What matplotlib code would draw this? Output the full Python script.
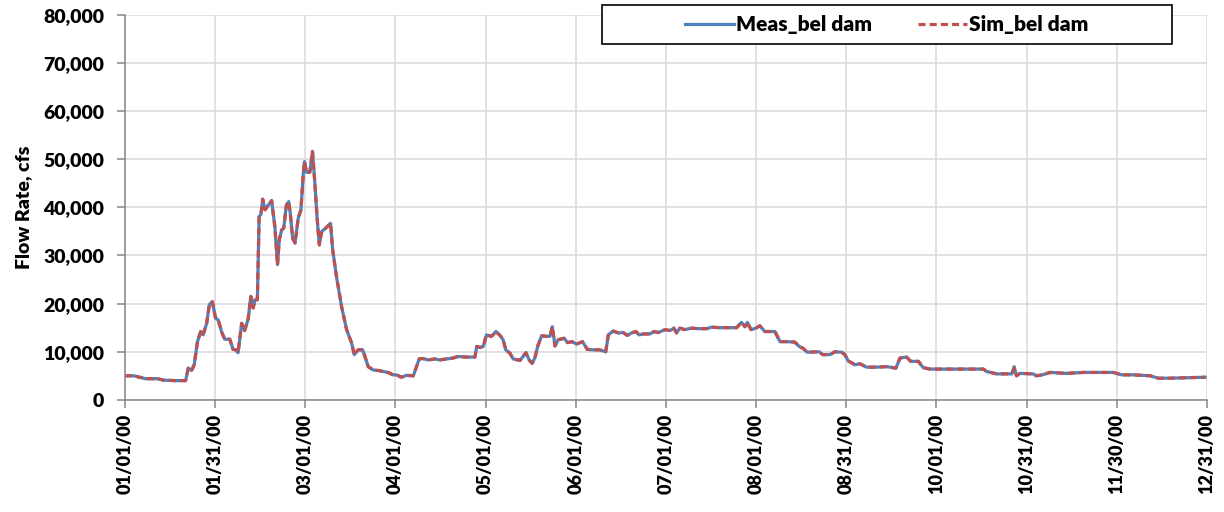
import numpy as np
import matplotlib
matplotlib.use('Agg')
import matplotlib.pyplot as plt
from matplotlib.patches import Rectangle
from matplotlib.ticker import FuncFormatter, MultipleLocator

plt.rcParams['font.family'] = ['Lato', 'DejaVu Sans']

# day of year 2000 (0 = 01/01/00) and flow, cfs
days = [0, 3, 5, 7, 11, 13, 17, 20.5, 21.4, 22.5, 23.4, 24.5, 25.6, 26.4, 27.6,
        28.5, 29.5, 30.6, 31.5, 32.6, 33.7, 35.4, 36.5, 37.5, 38.2, 39.4, 40.4,
        41.6, 42.5, 43.3, 43.9, 44.7, 45.3, 45.9, 46.5, 47.3, 48.4, 49.5, 50.6,
        51.5, 52.1, 52.9, 53.6, 54.5, 55.3, 55.8, 56.6, 57.4, 58.5, 59.4, 60.2,
        60.6, 61.3, 62.4, 63.3, 64.1, 64.9, 65.6, 66.4, 67.8, 69.4, 70.1, 71.4,
        73.1, 74.8, 76.5, 77.4, 78.7, 80.2, 81.0, 82.1, 83.8, 85.5, 88.8, 90.5,
        91.6, 93.3, 95.0, 97.3, 99.3, 100.4, 102.3, 104.6, 106.2, 108.5, 110.8,
        112.2, 115.2, 118.1, 118.7, 119.8, 120.9, 122.0, 123.7, 125.2, 126.7,
        127.6, 128.5, 129.9, 131.0, 133.3, 135.3, 136.4, 137.4, 138.3, 139.4,
        140.6, 142.3, 143.4, 144.2, 145.1, 146.2, 148.2, 149.3, 150.8, 152.4,
        154.4, 156.0, 157.9, 160.1, 162.2, 163.1, 164.7, 166.5, 168.1, 169.5,
        170.9, 172.4, 173.5, 174.9, 177.1, 178.5, 180.0, 182.2, 183.9, 185.2,
        186.1, 187.2, 188.9, 191.2, 193.4, 196.3, 197.9, 200.7, 204.1, 206.4,
        208.0, 209.2, 210.0, 211.2, 212.9, 214.2, 215.9, 219.3, 221.0, 223.3,
        226.0, 227.5, 228.8, 230.2, 234.2, 235.4, 237.9, 239.5, 241.8, 242.9,
        244.0, 246.3, 248.0, 250.2, 253.6, 257.0, 260.1, 261.5, 263.7, 265.1,
        267.7, 269.3, 271.6, 280.0, 289.6, 290.7, 294.1, 299.2, 300.0, 300.8,
        301.9, 306.4, 307.5, 309.5, 312.1, 317.7, 323.3, 333.5, 336.3, 340.3,
        345.9, 348.6, 352.0, 357.9, 364.4]

meas_flow = [5000, 5000, 4700, 4400, 4400, 4100, 4000, 4000, 6600, 6100, 7300,
             12100, 14200, 13500, 15900, 19800, 20400, 17000, 16600, 14200,
             12600, 12600, 10500, 10400, 9800, 15900, 14400, 16800, 21500,
             19100, 20800, 20800, 38100, 38500, 41700, 39500, 40500, 41400,
             36000, 28100, 33300, 35300, 35700, 40500, 41200, 38800, 33600,
             32600, 37800, 39500, 47100, 49500, 47300, 47300, 51600, 45000,
             37400, 32200, 35000, 35700, 36700, 31200, 25600, 19400, 14600,
             11800, 9400, 10400, 10400, 9000, 6900, 6200, 6100, 5700, 5200,
             5200, 4700, 5100, 5000, 8500, 8600, 8300, 8500, 8300, 8500, 8700,
             9000, 8900, 8900, 11100, 10900, 11100, 13500, 13200, 14200, 13300,
             12500, 10400, 9700, 8500, 8200, 9800, 8300, 7600, 8700, 11400,
             13300, 13200, 13200, 15200, 11200, 12500, 12800, 11900, 12100,
             11600, 12100, 10500, 10400, 10400, 10000, 13500, 14300, 13900,
             14000, 13400, 13900, 14200, 13500, 13700, 13700, 14200, 14000,
             14600, 14400, 14900, 13900, 14900, 14600, 14900, 14800, 14800,
             15100, 15000, 15000, 15000, 16100, 15200, 16100, 14600, 14900,
             15400, 14200, 14200, 12100, 12100, 12000, 11100, 10700, 9900,
             10000, 9400, 9400, 10000, 9900, 9400, 8100, 7300, 7500, 6800, 6800,
             6900, 6600, 8700, 8900, 8000, 8000, 6700, 6400, 6400, 6400, 5900,
             5400, 5400, 6900, 5000, 5500, 5400, 5000, 5200, 5700, 5500, 5700,
             5700, 5200, 5200, 5000, 4500, 4500, 4600, 4700]

sim_flow = [5000, 5000, 4700, 4400, 4400, 4100, 4000, 4000, 6600, 6100, 7300,
            12100, 14200, 13500, 15900, 19800, 20400, 17000, 16600, 14200,
            12600, 12600, 10500, 10400, 9800, 15900, 14400, 16800, 21500,
            19100, 20800, 20800, 38100, 38500, 41700, 39500, 40500, 41400,
            36000, 28100, 33300, 35300, 35700, 40500, 41200, 38800, 33600,
            32600, 37800, 39500, 47100, 49500, 47300, 47300, 51600, 45000,
            37400, 32200, 35000, 35700, 36700, 31200, 25600, 19400, 14600,
            11800, 9400, 10400, 10400, 9000, 6900, 6200, 6100, 5700, 5200,
            5200, 4700, 5100, 5000, 8500, 8600, 8300, 8500, 8300, 8500, 8700,
            9000, 8900, 8900, 11100, 10900, 11100, 13500, 13200, 14200, 13300,
            12500, 10400, 9700, 8500, 8200, 9800, 8300, 7600, 8700, 11400,
            13300, 13200, 13200, 15200, 11200, 12500, 12800, 11900, 12100,
            11600, 12100, 10500, 10400, 10400, 10000, 13500, 14300, 13900,
            14000, 13400, 13900, 14200, 13500, 13700, 13700, 14200, 14000,
            14600, 14400, 14900, 13900, 14900, 14600, 14900, 14800, 14800,
            15100, 15000, 15000, 15000, 16100, 15200, 16100, 14600, 14900,
            15400, 14200, 14200, 12100, 12100, 12000, 11100, 10700, 9900,
            10000, 9400, 9400, 10000, 9900, 9400, 8100, 7300, 7500, 6800, 6800,
            6900, 6600, 8700, 8900, 8000, 8000, 6700, 6400, 6400, 6400, 5900,
            5400, 5400, 6600, 5000, 5500, 5400, 5000, 5200, 5700, 5500, 5700,
            5700, 5200, 5200, 5000, 4500, 4500, 4600, 4700]

tick_labels = ['01/01/00', '01/31/00', '03/01/00', '04/01/00', '05/01/00',
               '06/01/00', '07/01/00', '08/01/00', '08/31/00', '10/01/00',
               '10/31/00', '11/30/00', '12/31/00']

fig = plt.figure(figsize=(12.24, 5.12), dpi=100)
ax = fig.add_axes([0.102, 0.219, 0.884, 0.752])

ax.plot(days, meas_flow, color='#4f81bd', lw=2.3, label='Meas_bel dam')
ax.plot(days, sim_flow, color='#c0504d', lw=2.3, ls=(0, (2.2, 1.3)), label='Sim_bel dam')

ax.set_xlim(0, 365)
ax.set_ylim(0, 80000)
ax.set_xticks([i * 365 / 12 for i in range(13)])
ax.set_xticklabels(tick_labels, rotation=90)
ax.yaxis.set_major_locator(MultipleLocator(10000))
ax.yaxis.set_major_formatter(FuncFormatter(lambda v, p: '{:,.0f}'.format(v)))

ax.grid(True, color='#d9d9d9', lw=1.1)
ax.set_axisbelow(True)
for s in ['top', 'right']:
    ax.spines[s].set_visible(False)
for s in ['left', 'bottom']:
    ax.spines[s].set_color('#868686')
    ax.spines[s].set_linewidth(1.1)
ax.tick_params(colors='#868686', length=6, width=1.1, labelcolor='black')
ax.tick_params(axis='y', labelsize=14, pad=9)
ax.tick_params(axis='x', labelsize=13, pad=4)
for lab in ax.get_xticklabels() + ax.get_yticklabels():
    lab.set_fontweight('heavy')

ax.set_ylabel('Flow Rate, cfs', fontsize=14, fontweight='heavy', labelpad=8)

# legend box (white, black edge) sitting over the top gridline
fig.patches.append(Rectangle((0.4918, 0.9141), 0.4657, 0.0762, transform=fig.transFigure,
                             facecolor='white', edgecolor='black', lw=1.2, zorder=2))
leg = fig.legend(loc='center', bbox_to_anchor=(0.7247, 0.952), ncol=2,
                 frameon=False, prop={'weight': 'heavy', 'size': 15},
                 handlelength=2.35, handletextpad=0.1, columnspacing=2.2,
                 borderaxespad=0)
leg.set_zorder(3)

plt.savefig('out.png', dpi=100)
plt.close()
